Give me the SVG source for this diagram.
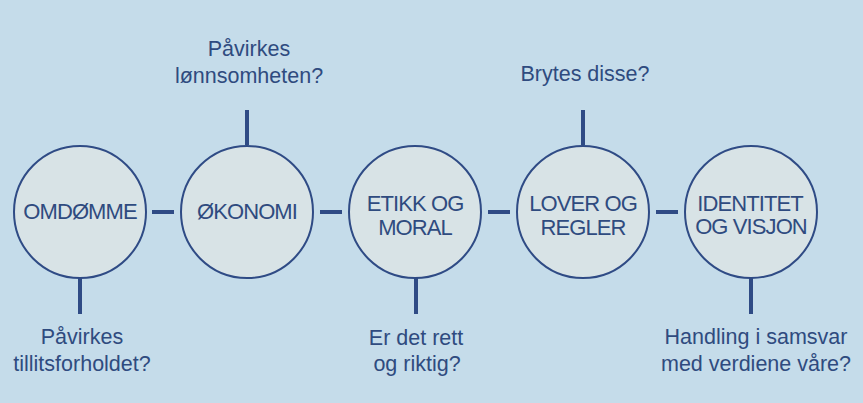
<svg xmlns="http://www.w3.org/2000/svg" width="863" height="403" viewBox="0 0 863 403">
<style>
.bg{fill:#c5dcea}
.n{fill:#d8e3e6;stroke:#2f4b85;stroke-width:2}
.c{stroke:#2f4b85;stroke-width:4;fill:none}
text{font-family:"Liberation Sans",Arial,sans-serif;fill:#2f4b7f;text-anchor:middle}
.t{font-size:22px;letter-spacing:-0.9px}
.q{font-size:21.5px}
</style>
<rect class="bg" x="0" y="0" width="863" height="403"/>
<g id="connectors">
<line class="c" x1="152" y1="212" x2="174" y2="212"/>
<line class="c" x1="320" y1="212" x2="342" y2="212"/>
<line class="c" x1="488" y1="212" x2="510" y2="212"/>
<line class="c" x1="656" y1="212" x2="678" y2="212"/>
<line class="c" x1="80" y1="278" x2="80" y2="314"/>
<line class="c" x1="247" y1="110" x2="247" y2="145"/>
<line class="c" x1="416" y1="278" x2="416" y2="314"/>
<line class="c" x1="583" y1="110" x2="583" y2="145"/>
<line class="c" x1="751" y1="278" x2="751" y2="314"/>
</g>
<g id="omdomme">
<circle class="n" cx="80" cy="212" r="66"/>
<text class="t" x="80" y="219">OMDØMME</text>
</g>
<g id="okonomi">
<circle class="n" cx="247" cy="212" r="66"/>
<text class="t" x="247" y="219">ØKONOMI</text>
</g>
<g id="etikk">
<circle class="n" cx="415" cy="212" r="66"/>
<text class="t" x="415" y="211">ETIKK OG</text>
<text class="t" x="415" y="235">MORAL</text>
</g>
<g id="lover">
<circle class="n" cx="583" cy="212" r="66"/>
<text class="t" x="583" y="211">LOVER OG</text>
<text class="t" x="583" y="235">REGLER</text>
</g>
<g id="identitet">
<circle class="n" cx="751" cy="212" r="66"/>
<text class="t" x="750" y="211">IDENTITET</text>
<text class="t" x="751" y="234">OG VISJON</text>
</g>
<g id="labels">
<text class="q" x="249" y="56">Påvirkes</text>
<text class="q" x="249" y="83">lønnsomheten?</text>
<text class="q" x="585" y="81">Brytes disse?</text>
<text class="q" x="82" y="344">Påvirkes</text>
<text class="q" x="82" y="371">tillitsforholdet?</text>
<text class="q" x="416" y="345">Er det rett</text>
<text class="q" x="417" y="371">og riktig?</text>
<text class="q" x="756" y="344">Handling i samsvar</text>
<text class="q" x="756" y="371">med verdiene våre?</text>
</g>
</svg>
